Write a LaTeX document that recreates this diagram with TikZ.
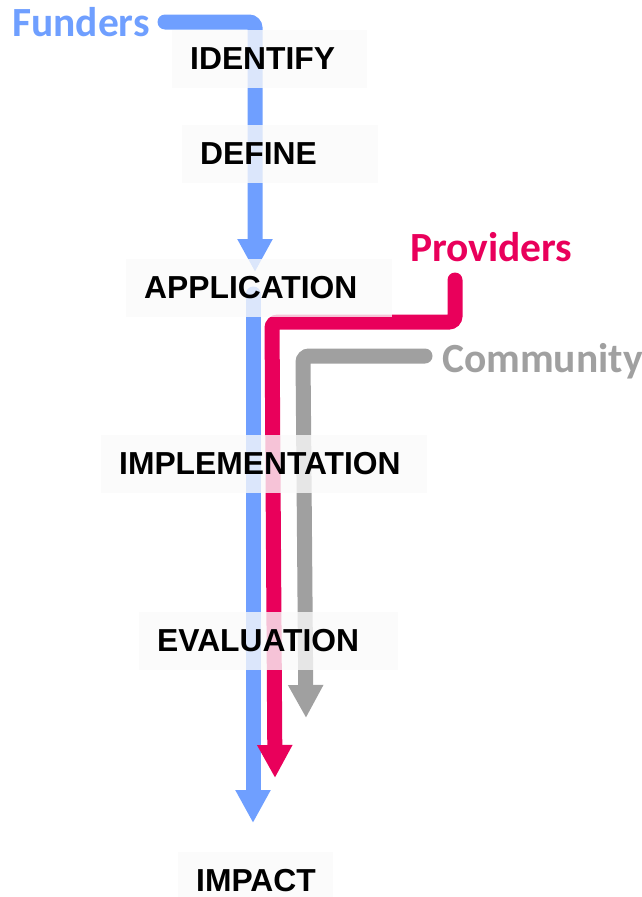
\documentclass[tikz,border=0pt]{standalone}
\usepackage{fontspec}
\setmainfont{Liberation Sans}
\newfontfamily\actorfont{Carlito}
\usetikzlibrary{arrows.meta}
\definecolor{funderblue}{HTML}{6F9FFF}
\definecolor{providerpink}{HTML}{E9005B}
\definecolor{communitygray}{HTML}{A0A0A0}

\begin{document}
\begin{tikzpicture}[x=1pt,y=-1pt]
    \tikzstyle{every node}+=[inner sep=0pt]
    \tikzstyle{actor}=[font=\actorfont\bfseries\fontsize{41.5}{41.5}\selectfont, anchor=base west]
    \tikzstyle{flow}=[line width=15pt, line cap=round, rounded corners=6pt, -{Triangle[width=33pt,length=33pt]}]
    \tikzstyle{stage}=[fill=black!2, fill opacity=0.78, text opacity=1, anchor=west, inner xsep=18pt, minimum height=58pt, align=left, font=\bfseries\fontsize{31.8}{31.8}\selectfont]
    \useasboundingbox (0,0) rectangle (642,897);
    % actors
    \node [actor, text=funderblue] (funders) at (12,36) {Funders};
    \node [actor, text=providerpink] (providers) at (410,261) {Providers};
    \node [actor, text=communitygray] (community) at (442,372) {Community};
    % funders
    \coordinate (fstart) at (165,22);
    \coordinate (fturn) at (255,22);
    \coordinate (fstop) at (255,272);
    \draw [flow, funderblue] (fstart) -- (fturn) -- (fstop);
    \coordinate (gstart) at (253,294);
    \coordinate (gstop) at (253,823);
    \draw [flow, funderblue] (gstart) -- (gstop);
    % providers
    \coordinate (pstart) at (455,280);
    \coordinate (pturn1) at (455,322);
    \coordinate (pturn2) at (272,322);
    \coordinate (pstop) at (275,778);
    \draw [flow, providerpink] (pstart) -- (pturn1) -- (pturn2) -- (pstop);
    % community
    \coordinate (cstart) at (425,356);
    \coordinate (cturn) at (303,356);
    \coordinate (cstop) at (306,718);
    \draw [flow, communitygray] (cstart) -- (cturn) -- (cstop);
    % stages
    \node [stage, text width=159pt] (identify) at (172,59) {IDENTIFY};
    \node [stage, text width=160pt] (define) at (182,154) {DEFINE};
    \node [stage, text width=230pt] (application) at (126,288) {APPLICATION};
    \node [stage, text width=290pt] (implementation) at (101,464) {IMPLEMENTATION};
    \node [stage, text width=223pt] (evaluation) at (139,641) {EVALUATION};
    \node [stage, text width=119pt] (impact) at (178,881) {IMPACT};
\end{tikzpicture}
\end{document}
